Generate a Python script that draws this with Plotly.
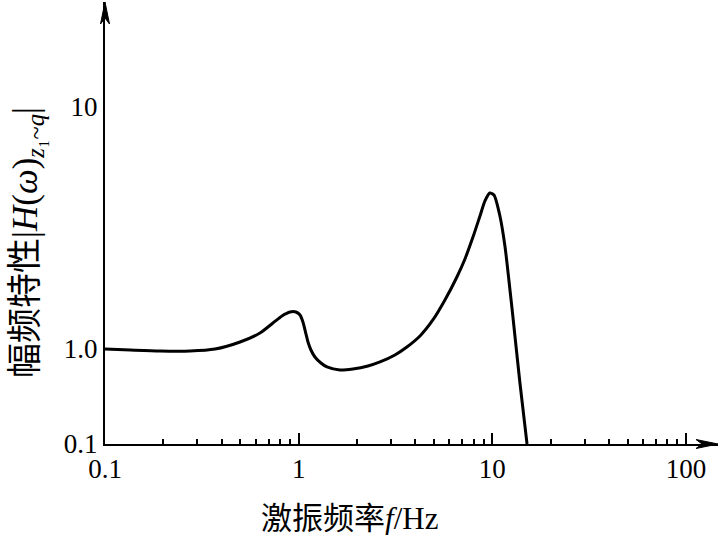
import math
import plotly.graph_objects as go

# ---- data ----
freq_hz = [0.100, 0.135, 0.192, 0.275, 0.370, 0.498, 0.631, 0.736, 0.820, 0.902,
           0.968, 1.016, 1.052, 1.091, 1.117, 1.157, 1.213, 1.303, 1.400, 1.633,
           1.905, 2.278, 2.630, 3.14, 3.62, 4.23, 4.93, 5.69, 6.56,
           7.22, 7.94, 8.63, 9.16, 9.70, 10.19, 10.94, 11.61, 12.33, 12.77,
           13.88, 15.1]
amp_H = [1.00, 0.976, 0.953, 0.953, 1.00, 1.069, 1.164, 1.28, 1.369, 1.422,
         1.422, 1.382, 1.293, 1.153, 1.069, 0.976, 0.824, 0.712, 0.647, 0.601,
         0.616, 0.662, 0.730, 0.865, 1.019, 1.132, 1.318, 1.594, 1.984,
         2.355, 2.90, 3.545, 4.09, 4.41, 4.33, 3.545, 2.665, 1.753, 1.356,
         0.439, 0.1]

x_tick_vals = [0.1, 1, 10, 100]
x_tick_text = ["0.1", "1", "10", "100"]
x_minor_vals = [m * d for d in (0.1, 1, 10) for m in range(2, 10)]
y_tick_vals_H = [0.1, 1.0, 10]
y_tick_text = ["0.1", "1.0", "10"]

# the printed amplitude axis is compressed below 1.0
LOW_SCALE = 95 / 242


def ypos(h):
    v = math.log10(h)
    return v if v >= 0 else v * LOW_SCALE


y_plot = [ypos(h) for h in amp_H]
y_tick_vals = [ypos(h) for h in y_tick_vals_H]

W, H = 720, 535
ML, MR, MT, MB = 105, 2, 2, 91
PW, PH = W - ML - MR, H - MT - MB

fig = go.Figure()
fig.add_trace(go.Scatter(
    x=freq_hz, y=y_plot, mode="lines",
    line=dict(color="black", width=3, shape="spline", smoothing=0.7),
    hoverinfo="skip", showlegend=False,
))

serif = "Liberation Serif"
cjk = "Noto Sans CJK SC"

fig.update_xaxes(
    type="log", range=[-1, 2.165],
    tickmode="array", tickvals=x_tick_vals, ticktext=x_tick_text,
    ticks="inside", ticklen=11, tickwidth=1.5, tickcolor="black",
    minor=dict(tickmode="array", tickvals=x_minor_vals, ticks="inside",
               ticklen=5, tickwidth=1.5, tickcolor="black", showgrid=False),
    showline=True, linewidth=2, linecolor="black",
    showgrid=False, zeroline=False,
    tickfont=dict(family=serif, size=27, color="black"),
)
fig.update_yaxes(
    range=[-95 / 242, 347 / 242],
    tickmode="array", tickvals=y_tick_vals, ticktext=y_tick_text,
    ticks="", showline=True, linewidth=2, linecolor="black",
    showgrid=False, zeroline=False,
    tickfont=dict(family=serif, size=27, color="black"),
)

# arrow heads on the axes
ah_w = 4.5 / PW
ah_h = 4.5 / PH
yb = 1 - 22 / PH
yi = 1 - 16 / PH
xb = 1 - 22 / PW
xi = 1 - 16 / PW
fig.add_shape(type="path", xref="paper", yref="paper",
              path=f"M 0 1 L {ah_w} {yb} L 0 {yi} L {-ah_w} {yb} Z",
              fillcolor="black", line=dict(color="black", width=1))
fig.add_shape(type="path", xref="paper", yref="paper",
              path=f"M 1 0 L {xb} {ah_h} L {xi} 0 L {xb} {-ah_h} Z",
              fillcolor="black", line=dict(color="black", width=1))

# axis titles
fig.add_annotation(
    xref="paper", yref="paper",
    x=(349 - ML) / PW, y=1 - (515 - MT) / PH,
    text=(f'<span style="font-family:{cjk}">激振频率</span>'
          '<i>f</i>/Hz'),
    showarrow=False, font=dict(family=serif, size=31, color="black"),
    xanchor="center", yanchor="middle",
)
fig.add_annotation(
    xref="paper", yref="paper",
    x=(23 - ML) / PW, y=1 - (243 - MT) / PH,
    text=(f'<span style="font-family:{cjk}">幅频特性</span>'
          '|<i>H</i>(<i>ω</i>)<sub><i>z</i>₁~<i>q</i></sub>|'),
    textangle=-90, showarrow=False,
    font=dict(family=serif, size=35, color="black"),
    xanchor="center", yanchor="middle",
)

fig.update_layout(
    width=W, height=H,
    margin=dict(l=ML, r=MR, t=MT, b=MB),
    paper_bgcolor="white", plot_bgcolor="white",
)

fig.write_html("out.html", config={"displayModeBar": False},
               post_script="document.body.style.margin='0px';")
